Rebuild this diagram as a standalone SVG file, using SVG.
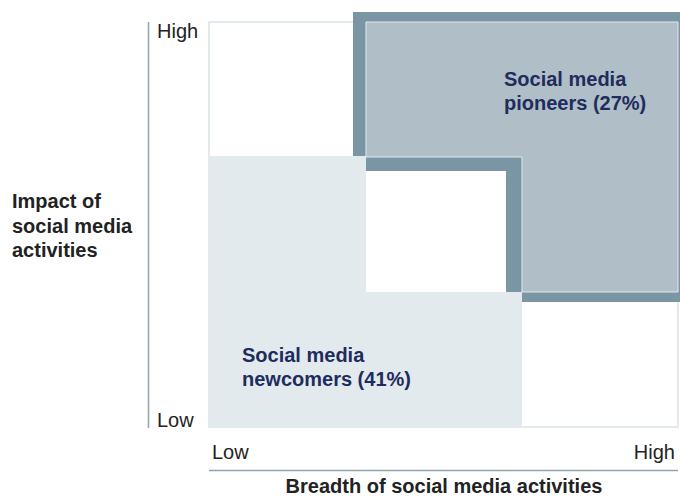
<svg xmlns="http://www.w3.org/2000/svg" width="680" height="499" viewBox="0 0 680 499">
<style>
text{font-family:"Liberation Sans",Arial,sans-serif;font-size:20px}
.ax{fill:#222}
.b{font-weight:bold}
.lbl{font-weight:bold;fill:#1f2c5e}
.axis{stroke:#8fa5b2;stroke-width:1.5;fill:none}
</style>
<rect width="680" height="499" fill="#fff"/>
<g id="grid">
<rect x="209" y="22" width="469" height="405" fill="#fff" stroke="#e3eaee" stroke-width="2"/>
</g>
<g id="newcomers">
<polygon points="209,156 366,156 366,292 522,292 522,428 209,428" fill="#e3eaee"/>
<text class="lbl" x="242" y="362">Social media</text>
<text class="lbl" x="242" y="386">newcomers (41%)</text>
</g>
<g id="pioneers">
<polygon points="353,12 680,12 680,302 522,302 522,292 506,292 506,171 366,171 366,156 353,156" fill="#7a95a3"/>
<polygon points="366,22 678,22 678,292 522,292 522,157 366,157" fill="#afbec7" stroke="#e3eaee" stroke-width="1"/>
<text class="lbl" x="504" y="86">Social media</text>
<text class="lbl" x="504" y="110">pioneers (27%)</text>
</g>
<g id="axes">
<line class="axis" x1="148.5" y1="22" x2="148.5" y2="428"/>
<line class="axis" x1="209" y1="470.5" x2="678" y2="470.5" stroke="#a9b8c1"/>
<text class="ax" x="157" y="38">High</text>
<text class="ax" x="157" y="427">Low</text>
<text class="ax" x="212" y="459">Low</text>
<text class="ax" x="675" y="459" text-anchor="end">High</text>
<text class="ax b" x="444" y="493" text-anchor="middle">Breadth of social media activities</text>
<text class="ax b" x="12" y="208">Impact of</text>
<text class="ax b" x="12" y="233">social media</text>
<text class="ax b" x="12" y="257">activities</text>
</g>
</svg>
